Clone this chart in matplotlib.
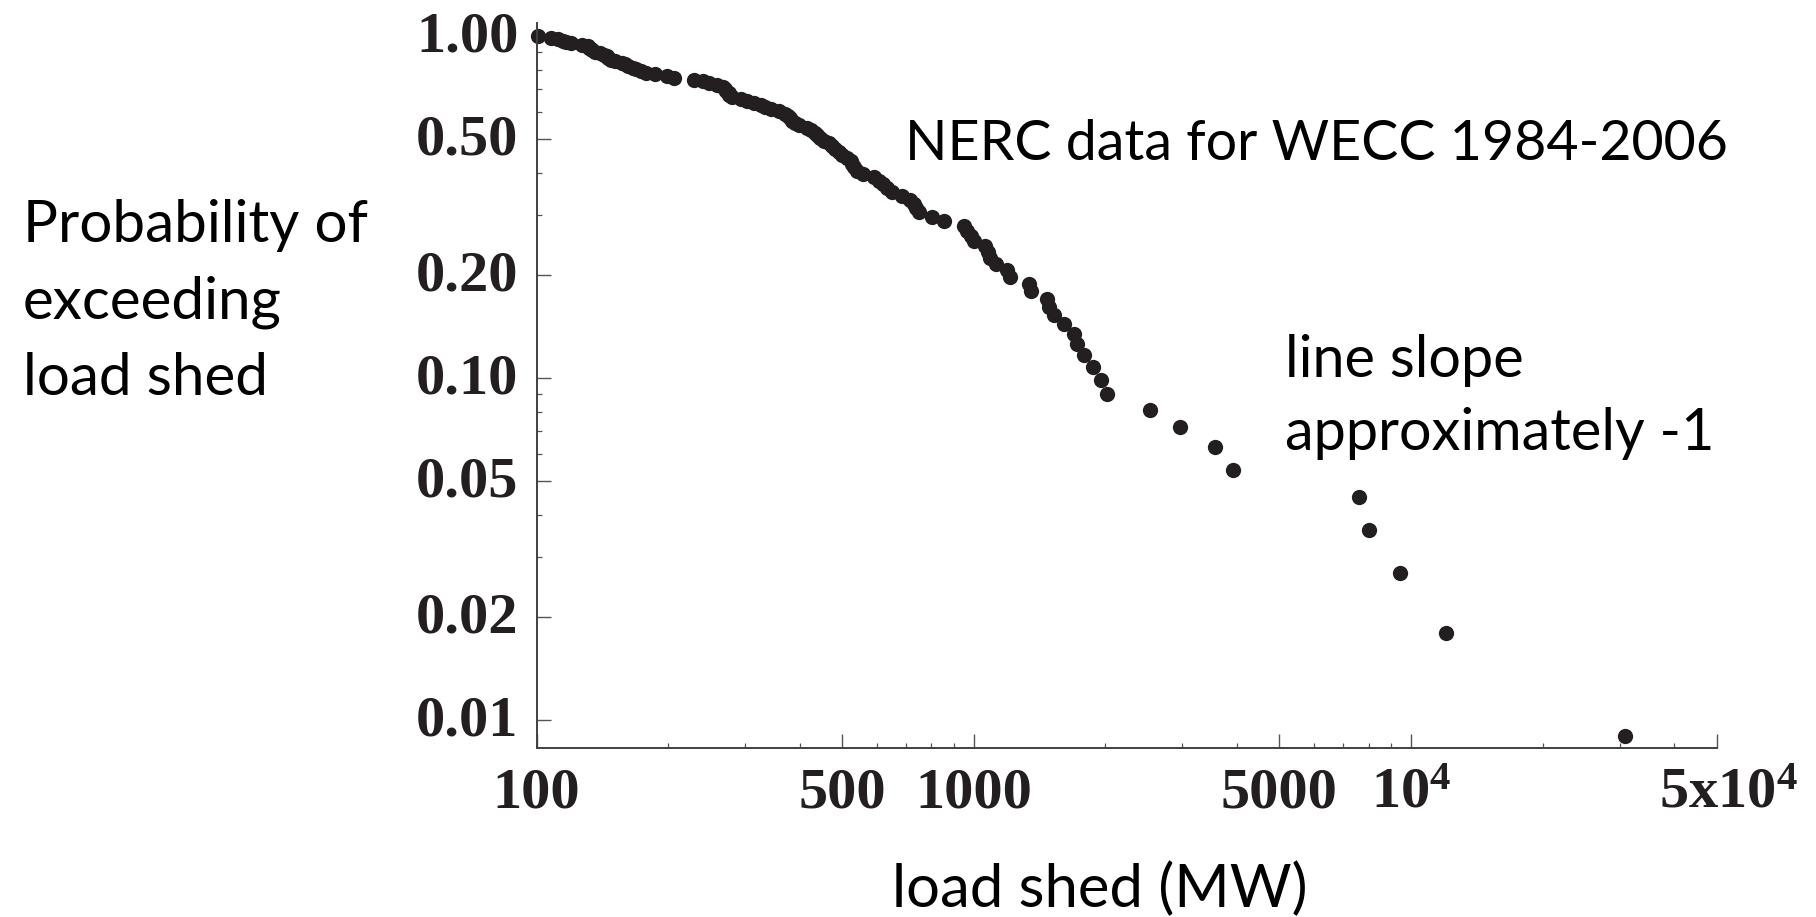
import numpy as np
import matplotlib
matplotlib.use("Agg")
import matplotlib.pyplot as plt
from matplotlib.ticker import NullFormatter
from matplotlib.transforms import ScaledTranslation

# load shed of every WECC event 1984-2006 (MW), largest first
load_shed_mw = [30800, 12000, 9450, 8000, 7590, 3910, 3560, 2960, 2530, 2020,
                1950, 1870, 1790, 1720, 1700, 1610, 1530, 1490, 1470, 1350,
                1340, 1210, 1190, 1127, 1087, 1077, 1060, 1000, 987, 964,
                948, 855, 804, 749, 736, 731, 714, 687, 651, 635,
                619, 606, 593, 558, 541, 532, 527, 523, 512, 501,
                491, 482, 473, 466, 454, 444, 438, 433, 425, 416,
                399, 391, 384, 380, 377, 370, 359, 344, 334, 327,
                314, 303, 293, 280, 276, 275, 272, 270, 267, 259,
                248, 240, 229, 206, 199, 187, 178, 173, 169, 166,
                162, 159, 157, 151, 148, 146, 145, 143, 140, 136,
                134, 133, 132, 131, 127, 120, 117, 115, 112, 108, 101]

x_ticks = [100, 500, 1000, 5000, 10000, 50000]
x_tick_labels = ["100", "500", "1000", "5000", "$10^{4}$", "5x$10^{4}$"]
x_minor = [200, 300, 400, 600, 700, 800, 900, 2000, 3000, 4000,
           6000, 7000, 8000, 9000, 20000, 30000, 40000]
y_ticks = [0.01, 0.02, 0.05, 0.1, 0.2, 0.5, 1.0]
y_tick_labels = ["0.01", "0.02", "0.05", "0.10", "0.20", "0.50", "1.00"]
y_minor = [0.03, 0.04, 0.06, 0.07, 0.08, 0.09, 0.3, 0.4, 0.6, 0.7, 0.8, 0.9]

# exceedance probability from the ranks
sizes = np.sort(np.array(load_shed_mw, dtype=float))[::-1]
n = len(sizes)
prob = np.arange(1, n + 1) / n

plt.rcParams["font.family"] = "Liberation Serif"
plt.rcParams["font.weight"] = "bold"
plt.rcParams["mathtext.fontset"] = "custom"
plt.rcParams["mathtext.rm"] = "Liberation Serif:bold"
plt.rcParams["mathtext.it"] = "Liberation Serif:bold"
plt.rcParams["mathtext.bf"] = "Liberation Serif:bold"
plt.rcParams["mathtext.default"] = "rm"

W, H = 1816, 917
fig = plt.figure(figsize=(W / 100, H / 100), dpi=100)
ax = fig.add_axes([536.5 / W, 1 - 748.3 / H, (1716.5 - 536.5) / W, (748.3 - 22.7) / H])

ax.plot(sizes, prob, "o", ms=11, color="#231f20", mec="none", clip_on=False)

ax.set_xscale("log")
ax.set_yscale("log")
ax.set_xlim(100, 50000)
ax.set_ylim(0.00829, 1.097)

ax.set_xticks(x_ticks, labels=x_tick_labels)
ax.set_xticks(x_minor, minor=True)
ax.set_yticks(y_ticks, labels=y_tick_labels)
ax.set_yticks(y_minor, minor=True)
ax.xaxis.set_minor_formatter(NullFormatter())
ax.yaxis.set_minor_formatter(NullFormatter())

for side in ["top", "right"]:
    ax.spines[side].set_visible(False)
for side in ["left", "bottom"]:
    ax.spines[side].set_linewidth(1.4)
    ax.spines[side].set_color("#404040")

ax.tick_params(which="both", direction="in", color="#555555", labelcolor="#231f20")
ax.tick_params(which="major", length=10, width=1.0)
ax.tick_params(which="minor", length=3.3, width=0.9)
ax.tick_params(axis="y", which="major", pad=13, labelsize=42)
ax.tick_params(axis="x", which="major", pad=14, labelsize=42)

# y labels sit a little above their ticks, the last x label a bit to the right
up = ScaledTranslation(0, 5 / 100, fig.dpi_scale_trans)
for t in ax.yaxis.get_major_ticks():
    t.label1.set_transform(t.label1.get_transform() + up)
last = ax.xaxis.get_major_ticks()[-1].label1
last.set_transform(last.get_transform() + ScaledTranslation(12 / 100, 0, fig.dpi_scale_trans))

# annotation texts (positions in pixels of the figure)
def label(x, y, s, size, ha="left"):
    fig.text(x / W, 1 - y / H, s, fontfamily="Lato", fontweight="normal",
             fontsize=size, ha=ha, va="baseline", color="black")

label(22.7, 241.7, "Probability of", 42)
label(22.7, 318.3, "exceeding", 42)
label(22.7, 395, "load shed", 42)
label(905, 160, "NERC data for WECC 1984-2006", 40)
label(1285, 376.7, "line slope", 41.5)
label(1285, 450, "approximately -1", 41.5)
label(1100, 907, "load shed (MW)", 43, ha="center")

fig.savefig("out.png", dpi=100)
